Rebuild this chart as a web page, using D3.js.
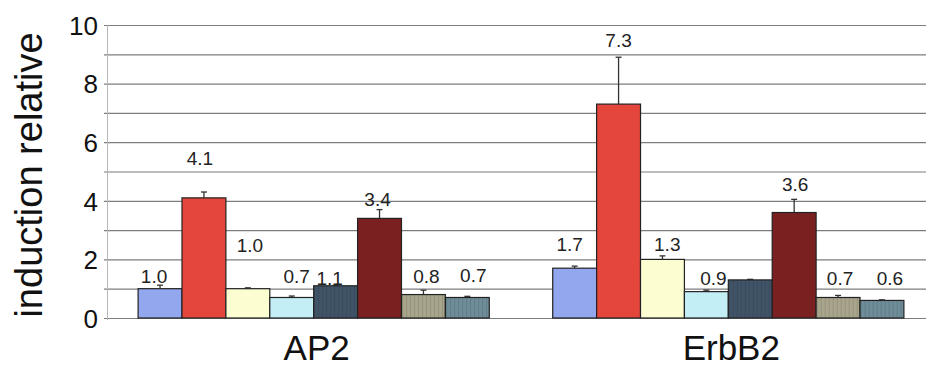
<!DOCTYPE html>
<html>
<head>
<meta charset="utf-8">
<script src="https://cdn.jsdelivr.net/npm/d3@7"></script>
<style>
  html, body { margin: 0; padding: 0; background: #fff; }
  svg { display: block; font-family: "Liberation Sans", Arial, sans-serif; }
</style>
</head>
<body>
<svg id="chart" width="926" height="366"></svg>
<script>
// Gene targets on the x axis
const genes = ["AP2", "ErbB2"];
// Eight treatments per gene, drawn left to right
const treatments = ["t1", "t2", "t3", "t4", "t5", "t6", "t7", "t8"];
const treatmentColors = ["#93a7ee", "#e5463c", "#fdfdd2", "#c4eef6", "#415467", "#7b2020", "#a9a58c", "#6e8d98"];
// Treatments filled with a fine vertical stripe texture
const treatmentStriped = [false, false, false, false, true, false, true, true];

// Relative induction (mean) and upper error per treatment
const ap2Values   = [1.0, 4.1, 1.0, 0.7, 1.1, 3.4, 0.8, 0.7];
const ap2Errors   = [0.12, 0.2, 0.03, 0.05, 0.02, 0.3, 0.15, 0.04];
const erbb2Values = [1.7, 7.3, 2.0, 0.9, 1.3, 3.6, 0.7, 0.6];
const erbb2Errors = [0.07, 1.6, 0.12, 0.05, 0.02, 0.45, 0.07, 0.02];

// Value labels (null = unlabelled bar)
const ap2Labels   = ["1.0", "4.1", "1.0", "0.7", "1.1", "3.4", "0.8", "0.7"];
const erbb2Labels = ["1.7", "7.3", null, "0.9", "1.3", "3.6", "0.7", "0.6"];

// Y axis ticks
const yTicks = [0, 2, 4, 6, 8, 10];
const yGrid  = [0, 1, 2, 3, 4, 5, 6, 7, 8, 9, 10];

// Label placement tweaks [dx, dy] relative to the bar centre / bar top
const ap2LabelNudge   = [[-6, -6], [-4, -33], [2, -37], [5, -14], [-6, -1], [-2, -12], [3, -12], [6, -15]];
const erbb2LabelNudge = [[-5, -17], [0, -57], [0, 0], [7, -7], [-83, -29], [1, -22], [2, -12], [8, -15]];

const groups = [
  { gene: genes[0], values: ap2Values, errors: ap2Errors, labels: ap2Labels, nudge: ap2LabelNudge },
  { gene: genes[1], values: erbb2Values, errors: erbb2Errors, labels: erbb2Labels, nudge: erbb2LabelNudge }
];

const svg = d3.select("#chart");
const plotLeft = 107, plotRight = 935, plotTop = 25, plotBottom = 318;

// Stripe patterns, one per textured colour
const defs = svg.append("defs");
treatmentColors.forEach((c, i) => {
  if (!treatmentStriped[i]) return;
  const p = defs.append("pattern").attr("id", "stripe" + i)
    .attr("patternUnits", "userSpaceOnUse").attr("width", 4).attr("height", 4);
  p.append("rect").attr("width", 4).attr("height", 4).attr("fill", c);
  p.append("rect").attr("x", 0).attr("width", 1).attr("height", 4)
    .attr("fill", d3.color(c).darker(0.35).formatHex());
});

const y = d3.scaleLinear().domain([0, 10]).range([plotBottom, plotTop]);
const x0 = d3.scaleBand().domain(genes).range([plotLeft, plotRight])
  .paddingInner(0.153).paddingOuter(0.075);
const x1 = d3.scaleBand().domain(treatments).range([0, x0.bandwidth()]).padding(0);

// Horizontal gridlines
svg.append("g").selectAll("line").data(yGrid).join("line")
  .attr("x1", plotLeft - 3).attr("x2", 926)
  .attr("y1", d => y(d) + 0.5).attr("y2", d => y(d) + 0.5)
  .attr("stroke", "#7d7d7d").attr("stroke-width", 1.2);

// Left axis line
svg.append("line")
  .attr("x1", plotLeft + 0.5).attr("x2", plotLeft + 0.5)
  .attr("y1", plotTop).attr("y2", plotBottom + 2)
  .attr("stroke", "#b5b5b5").attr("stroke-width", 1);

// Y axis tick labels
const yAxis = d3.axisLeft(y).tickValues(yTicks).tickSize(0).tickPadding(0).tickFormat(d3.format("d"));
const gy = svg.append("g").attr("transform", `translate(98,1)`).call(yAxis);
gy.select(".domain").remove();
gy.selectAll("text").attr("font-size", 26).attr("fill", "#111")
  .attr("font-family", "Liberation Sans, Arial, sans-serif");

// Y axis title
svg.append("text")
  .attr("transform", `translate(42,175) rotate(-90)`)
  .attr("text-anchor", "middle")
  .attr("font-size", 38).attr("fill", "#111")
  .text("induction relative");

// Bars, error bars and labels
const g = svg.selectAll("g.group").data(groups).join("g")
  .attr("class", "group")
  .attr("transform", d => `translate(${x0(d.gene)},0)`);

g.each(function(grp) {
  const sel = d3.select(this);
  const rows = grp.values.map((v, i) => ({
    t: treatments[i], v, e: grp.errors[i], label: grp.labels[i], nudge: grp.nudge[i],
    fill: treatmentStriped[i] ? `url(#stripe${i})` : treatmentColors[i]
  }));

  // error bar stems and caps (upper only)
  sel.selectAll("line.err").data(rows).join("line")
    .attr("class", "err")
    .attr("x1", d => x1(d.t) + x1.bandwidth() / 2).attr("x2", d => x1(d.t) + x1.bandwidth() / 2)
    .attr("y1", d => y(d.v)).attr("y2", d => y(d.v + d.e))
    .attr("stroke", "#333").attr("stroke-width", 1.3);
  sel.selectAll("line.cap").data(rows).join("line")
    .attr("class", "cap")
    .attr("x1", d => x1(d.t) + x1.bandwidth() / 2 - 3).attr("x2", d => x1(d.t) + x1.bandwidth() / 2 + 3)
    .attr("y1", d => y(d.v + d.e)).attr("y2", d => y(d.v + d.e))
    .attr("stroke", "#333").attr("stroke-width", 1.3);

  sel.selectAll("rect").data(rows).join("rect")
    .attr("x", d => x1(d.t)).attr("width", x1.bandwidth())
    .attr("y", d => y(d.v)).attr("height", d => y(0) - y(d.v))
    .attr("fill", d => d.fill)
    .attr("stroke", "#222").attr("stroke-width", 1.2);

  sel.selectAll("text.val").data(rows.filter(d => d.label)).join("text")
    .attr("class", "val")
    .attr("x", d => x1(d.t) + x1.bandwidth() / 2 + d.nudge[0])
    .attr("y", d => y(d.v) + d.nudge[1])
    .attr("text-anchor", "middle")
    .attr("font-size", 19).attr("fill", "#222")
    .text(d => d.label);
});

// Category labels
svg.append("g").selectAll("text").data(genes).join("text")
  .attr("x", d => x0(d) + x0.bandwidth() / 2 + 3)
  .attr("y", 360)
  .attr("text-anchor", "middle")
  .attr("font-size", 35).attr("fill", "#111")
  .text(d => d);
</script>
</body>
</html>
